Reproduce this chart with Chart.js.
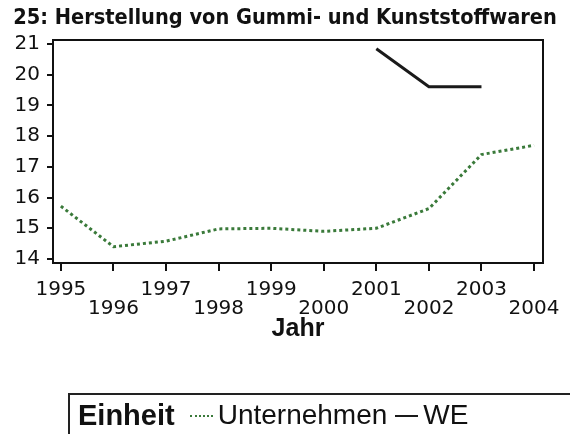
<!DOCTYPE html>
<html>
<head>
<meta charset="utf-8">
<script src="https://cdn.jsdelivr.net/npm/chart.js@4/dist/chart.umd.min.js"></script>
<style>
  body { margin: 0; background: #fff; }
  #wrap { position: relative; width: 570px; height: 434px; overflow: hidden; }
  #legend {
    position: absolute; left: 68px; top: 393px; width: 520px; height: 50px;
    box-sizing: border-box; border: 2px solid #222; padding: 3px 0 0 8px;
    display: flex; align-items: flex-start;
    font-family: "Liberation Sans", Arial, sans-serif; color: #111;
  }
  #legend .head { font-size: 29px; font-weight: bold; line-height: 34px; }
  #legend .item { display: flex; align-items: center; font-size: 28px; line-height: 34px; }
  #legend .item.first { margin-left: 15px; }
  #legend .item.next { margin-left: 8px; }
  #legend .sample { width: 23px; height: 0; margin-right: 5px; margin-top: 2px; }
</style>
</head>
<body>
<div id="wrap">
  <canvas id="chart" width="570" height="434"></canvas>
  <div id="legend"></div>
</div>
<script>
const years = [1995, 1996, 1997, 1998, 1999, 2000, 2001, 2002, 2003, 2004];
const unternehmen = [15.72, 14.4, 14.58, 14.98, 15.0, 14.9, 15.0, 15.64, 17.4, 17.7];
const we = [null, null, null, null, null, null, 20.84, 19.61, 19.61, null];
const yTicks = [14, 15, 16, 17, 18, 19, 20, 21];

const chartTitle = "25: Herstellung von Gummi- und Kunststoffwaren";
const xTitle = "Jahr";
const legendTitle = "Einheit";

const tickFont = { family: "DejaVu Sans", size: 20, lineHeight: 0.92 };

function points(values) {
  return years.map((year, i) => ({ x: year, y: values[i] }));
}

const ctx = document.getElementById("chart");
const chart = new Chart(ctx, {
  type: "line",
  data: {
    datasets: [
      {
        label: "Unternehmen",
        data: points(unternehmen),
        borderColor: "#3a7a3a",
        borderWidth: 3,
        borderDash: [3, 3],
        pointRadius: 0,
        tension: 0,
      },
      {
        label: "WE",
        data: points(we),
        borderColor: "#1a1a1a",
        borderWidth: 3,
        pointRadius: 0,
        tension: 0,
      },
    ],
  },
  options: {
    responsive: false,
    devicePixelRatio: 1,
    animation: false,
    layout: { padding: 0 },
    plugins: {
      legend: { display: false },
      tooltip: { enabled: false },
      title: {
        display: true,
        text: chartTitle,
        color: "#111",
        font: { family: "'DejaVu Sans Condensed', 'Liberation Sans', sans-serif", size: 21.6, weight: "bold" },
        padding: { top: 5, bottom: 9 },
      },
    },
    scales: {
      x: {
        type: "linear",
        position: "bottom",
        min: 1994.85,
        max: 2004.17,
        afterBuildTicks: (scale) => {
          scale.ticks = years.map((v) => ({ value: v }));
        },
        afterFit: (scale) => {
          scale.height = 171;
        },
        ticks: {
          autoSkip: false,
          maxRotation: 0,
          minRotation: 0,
          color: "#111",
          font: tickFont,
          padding: 10,
          callback: (value, index) => (index % 2 === 0 ? [String(value), ""] : ["", String(value)]),
        },
        grid: { drawOnChartArea: false, drawTicks: true, tickLength: 8, color: "#111", lineWidth: 2 },
        border: { display: true, color: "#111", width: 2 },
        title: {
          display: true,
          text: xTitle,
          color: "#111",
          font: { family: "Liberation Sans", size: 25, weight: "bold" },
          padding: { top: 0, bottom: 90 },
        },
      },
      x2: {
        type: "linear",
        position: "top",
        ticks: { display: false },
        grid: { display: false },
        border: { display: true, color: "#111", width: 2 },
        afterFit: (scale) => {
          scale.height = 0;
        },
      },
      y: {
        type: "linear",
        position: "left",
        min: 13.87,
        max: 21.13,
        afterBuildTicks: (scale) => {
          scale.ticks = yTicks.map((v) => ({ value: v }));
        },
        afterFit: (scale) => {
          scale.width = 53;
        },
        ticks: { color: "#111", font: { family: "DejaVu Sans", size: 20 }, padding: 7 },
        grid: { drawOnChartArea: false, drawTicks: true, tickLength: 6, color: "#111", lineWidth: 2 },
        border: { display: true, color: "#111", width: 2 },
      },
      y2: {
        type: "linear",
        position: "right",
        ticks: { display: false },
        grid: { display: false },
        border: { display: true, color: "#111", width: 2 },
        afterFit: (scale) => {
          scale.width = 21;
        },
      },
    },
  },
});

// legend built from the datasets
const legendEl = document.getElementById("legend");
const head = document.createElement("span");
head.className = "head";
head.textContent = legendTitle;
legendEl.appendChild(head);
chart.data.datasets.forEach((ds, i) => {
  const item = document.createElement("span");
  item.className = i === 0 ? "item first" : "item next";
  const sample = document.createElement("span");
  sample.className = "sample";
  sample.style.borderTop = `2px ${ds.borderDash ? "dotted" : "solid"} ${ds.borderColor}`;
  const label = document.createElement("span");
  label.textContent = ds.label;
  item.appendChild(sample);
  item.appendChild(label);
  legendEl.appendChild(item);
});
</script>
</body>
</html>
